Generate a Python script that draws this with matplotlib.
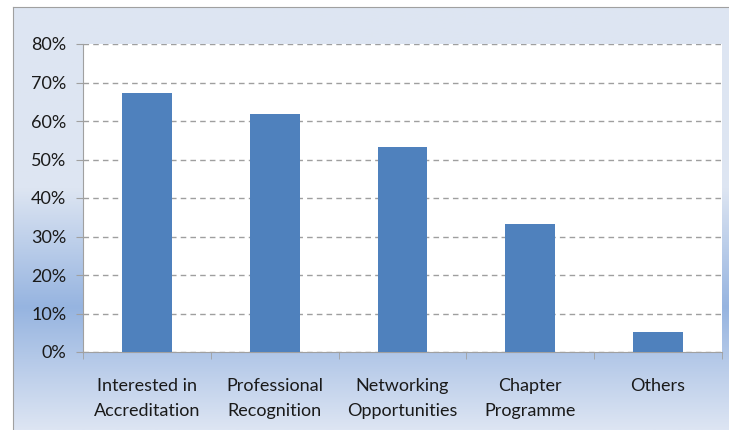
import numpy as np
import matplotlib
matplotlib.use("Agg")
import matplotlib.pyplot as plt
from matplotlib.colors import LinearSegmentedColormap

# Data
categories = ["Interested in\nAccreditation", "Professional\nRecognition",
              "Networking\nOpportunities", "Chapter\nProgramme", "Others"]
values = [67.3, 61.8, 53.2, 33.2, 5.2]
yticks = [0, 10, 20, 30, 40, 50, 60, 70, 80]

plt.rcParams['font.family'] = ['Lato', 'DejaVu Sans']

W, H = 729, 430
fig = plt.figure(figsize=(W / 100, H / 100), dpi=100)
fig.patch.set_facecolor('white')

# background gradient of the chart area (light -> blue -> light)
bg = fig.add_axes([13 / W, 0, 1 - 13 / W, 1 - 7 / H], zorder=0)
cmap = LinearSegmentedColormap.from_list(
    'bg', [(0.0, '#dee6f2'), (0.43, '#dde5f2'), (0.71, '#96b4e0'), (1.0, '#dde5f3')])
grad = np.linspace(0, 1, 256).reshape(-1, 1)
bg.imshow(grad, aspect='auto', cmap=cmap, extent=[0, 1, 1, 0])
bg.set_xlim(0, 1)
bg.set_ylim(1, 0)
bg.set_xticks([])
bg.set_yticks([])
for side in ['right', 'bottom']:
    bg.spines[side].set_visible(False)
bg.spines['top'].set_color('#a0a0a0')
bg.spines['left'].set_color('#a0a0a0')

# plot area
left, right, top, bottom = 83, 722, 44, 352
ax = fig.add_axes([left / W, 1 - bottom / H, (right - left) / W, (bottom - top) / H], zorder=1)
ax.set_facecolor('white')

x = np.arange(len(categories))
ax.bar(x, values, width=0.39, color='#4f81bd', zorder=3)

ax.set_xlim(-0.5, len(categories) - 0.5)
ax.set_ylim(0, 80)
ax.set_yticks(yticks)
ax.set_yticklabels([f"{v}%" for v in yticks], fontsize=13, color='#1a1a1a')
ax.set_xticks(x)
ax.set_xticklabels(categories, fontsize=13, color='#1a1a1a', linespacing=1.65)
ax.set_xticks(np.arange(-0.5, len(categories)), minor=True)
ax.tick_params(axis='x', which='major', length=0, pad=19)
ax.tick_params(axis='x', which='minor', length=5, color='#a0a0a0', direction='out')
ax.tick_params(axis='y', length=5, color='#a0a0a0', pad=7)

ax.grid(axis='y', color='#9f9f9f', linestyle=(0, (4, 3)), linewidth=1, zorder=0)
ax.spines['top'].set_visible(False)
ax.spines['right'].set_visible(False)
ax.spines['left'].set_color('#a0a0a0')
ax.spines['bottom'].set_color('#a0a0a0')

fig.savefig('out.png', dpi=100)
